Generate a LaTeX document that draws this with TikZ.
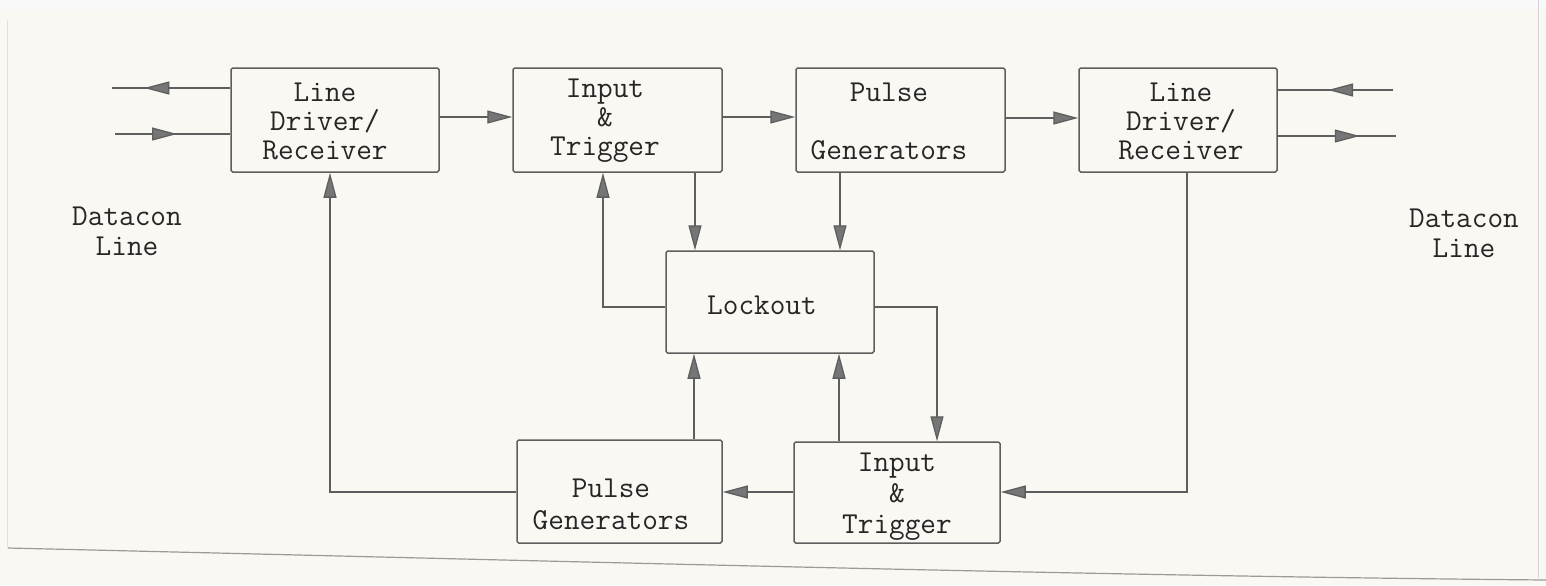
\documentclass[tikz,border=0pt]{standalone}
\usetikzlibrary{arrows.meta,decorations.markings}

\definecolor{paper}{HTML}{FAF8F3}
\definecolor{ink}{HTML}{5E5E5E}
\definecolor{typed}{HTML}{262626}
\definecolor{tipfill}{HTML}{767676}
\definecolor{edge}{HTML}{9A9A9A}

\begin{document}
\begin{tikzpicture}[x=0.5pt,y=-0.5pt,
  >={Triangle[length=12.5pt,width=6.5pt,fill=tipfill]},
  box/.style={draw=ink,line width=0.75pt,rounded corners=0.8pt,inner sep=0pt},
  label/.style={inner sep=0pt,align=center,text=typed,
    font=\ttfamily\fontsize{15.2pt}{14.5pt}\selectfont},
  wire/.style={draw=ink,line width=0.65pt},
  flow/.style={wire,->},
  midarrow/.style={decoration={markings,mark=at position #1 with {\arrow{>}}},
    postaction={decorate}}]

% sheet of paper
\useasboundingbox (0,0) rectangle (1546,585);
\fill[paper] (0,0) rectangle (1546,585);
\fill[edge!6] (0,0) rectangle (1546,10);
\draw[edge,line width=0.6pt] (8,548) .. controls (600,562) and (1100,576) .. (1546,580);
\draw[edge!45,line width=0.5pt] (1538,0) -- (1538,578);
\draw[edge!30,line width=0.5pt] (7,20) -- (7,548);

% blocks
\node[box,minimum width=104pt,minimum height=52pt] (ldrL) at (335,120) {};
\node[box,minimum width=104.5pt,minimum height=52pt] (itT) at (617.5,120) {};
\node[box,minimum width=104.5pt,minimum height=52pt] (pgT) at (900.5,120) {};
\node[box,minimum width=99pt,minimum height=52pt] (ldrR) at (1178,120) {};
\node[box,minimum width=104pt,minimum height=51pt] (lock) at (770,302) {};
\node[box,minimum width=102.5pt,minimum height=51.5pt] (pgB) at (619.5,491.5) {};
\node[box,minimum width=103pt,minimum height=50.5pt] (itB) at (897,492.5) {};

% block texts
\node[label] (ldrLt) at (325,121) {Line\\Driver/\\Receiver};
\node[label] (itTt) at (605,121) {Input\\\&\\Trigger};
\node[label] (pgTt) at (889,121) {Pulse\\[14.5pt]Generators};
\node[label] (ldrRt) at (1181,121) {Line\\Driver/\\Receiver};
\node[label] (lockt) at (762,305) {Lockout};
\node[label,font=\ttfamily\fontsize{15.2pt}{16pt}\selectfont] (pgBt) at (611,504) {Pulse\\Generators};
\node[label,font=\ttfamily\fontsize{15.2pt}{15.5pt}\selectfont] (itBt) at (897,497) {Input\\\&\\Trigger};

% line labels
\node[label,font=\ttfamily\fontsize{15.2pt}{15pt}\selectfont] (dcL) at (127,231) {Datacon\\Line};
\node[label,font=\ttfamily\fontsize{15.2pt}{15pt}\selectfont] (dcR) at (1464,233) {Datacon\\Line};

% Datacon line terminals
\coordinate (lOut) at (112,88);
\coordinate (lIn) at (115,134);
\coordinate (rIn) at (1393,90);
\coordinate (rOut) at (1396,136);

\draw[wire,midarrow=43pt] (ldrL.west |- 0,88) -- (lOut);
\draw[wire,midarrow=31pt] (lIn) -- (ldrL.west |- 0,134);
\draw[wire,midarrow=32.5pt] (rIn) -- (ldrR.east |- 0,90);
\draw[wire,midarrow=41pt] (ldrR.east |- 0,136) -- (rOut);

% forward path
\draw[flow] (ldrL.east |- 0,117) -- (itT.west |- 0,117);
\draw[flow] (itT.east |- 0,117) -- (pgT.west |- 0,117);
\draw[flow] (pgT.east |- 0,118) -- (ldrR.west |- 0,118);

% lockout connections
\draw[flow] (695,0 |- itT.south) -- (695,0 |- lock.north);
\draw[flow] (840,0 |- pgT.south) -- (840,0 |- lock.north);
\draw[flow] (lock.west |- 0,307) -| (603,0 |- itT.south);
\draw[flow] (lock.east |- 0,307) -| (937,0 |- itB.north);
\draw[flow] (694,0 |- pgB.north) -- (694,0 |- lock.south);
\draw[flow] (839,0 |- itB.north) -- (839,0 |- lock.south);

% return path
\draw[flow] (1187,0 |- ldrR.south) |- (itB.east |- 0,492);
\draw[flow] (itB.west |- 0,492) -- (pgB.east |- 0,492);
\draw[flow] (pgB.west |- 0,492) -| (330,0 |- ldrL.south);
\end{tikzpicture}
\end{document}
